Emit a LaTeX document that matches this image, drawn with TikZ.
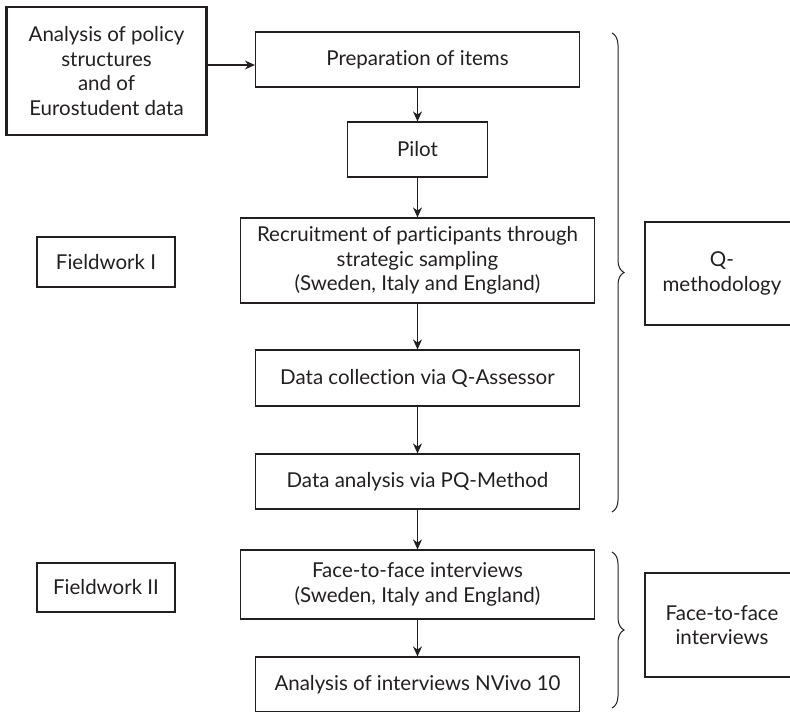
\documentclass[tikz,border=0pt]{standalone}
\usepackage{fontspec}
\setmainfont{Lato}[Ligatures=NoCommon]
\usetikzlibrary{arrows.meta,decorations.pathreplacing}
\definecolor{ink}{HTML}{231F20}
\tikzset{
  box/.style={draw=ink, text=ink, line width=1.2pt, align=center, inner sep=0pt,
    font=\fontsize{20.5}{24.5}\selectfont},
  bigbox/.style={box, line width=2.8pt},
  flow/.style={-{Stealth[length=10pt,width=9pt]}, draw=ink, line width=1.2pt},
  curly/.style={draw=ink, line width=1pt, decorate, decoration={brace, amplitude=12pt}}
}
\begin{document}
\begin{tikzpicture}[x=1pt, y=-1pt]
      \useasboundingbox (0,0) rectangle (790,712);
      \draw
        (106.5,71) node[bigbox, minimum width=200, minimum height=128] (src){Analysis of policy\\structures\\and of\\Eurostudent data}
        (417.5,59.5) node[box, minimum width=324, minimum height=55] (prep){Preparation of items}
        (417.5,149.5) node[box, minimum width=140, minimum height=55] (pilot){Pilot}
        (417.5,260.5) node[box, minimum width=354, minimum height=85] (recruit){Recruitment of participants through\\strategic sampling\\(Sweden, Italy and England)}
        (417.5,378) node[box, minimum width=324, minimum height=56] (collect){Data collection via Q-Assessor}
        (417.5,481.5) node[box, minimum width=324, minimum height=55] (pqm){Data analysis via PQ-Method}
        (417.5,584.5) node[box, minimum width=354, minimum height=69] (interv){Face-to-face interviews\\(Sweden, Italy and England)}
        (417.5,684.5) node[box, minimum width=324, minimum height=55] (nvivo){Analysis of interviews NVivo 10}
        (106,262) node[bigbox, minimum width=138, minimum height=50] (fw1){Fieldwork I}
        (106,587.5) node[bigbox, minimum width=138, minimum height=49] (fw2){Fieldwork II}
        (722,273.5) node[bigbox, minimum width=154, minimum height=103] (qm){Q-\\methodology}
        (722,625) node[bigbox, minimum width=154, minimum height=104] (ftf){Face-to-face\\interviews};
      \coordinate (qtop) at (612,33);
      \coordinate (qbot) at (612,512);
      \coordinate (ftop) at (612,552);
      \coordinate (fbot) at (612,708);
      \begin{scope}[flow]
        \draw ([yshift=6pt]src.east) to ([yshift=6pt]src.east -| prep.west);
        \draw (prep) to (pilot);
        \draw (pilot) to (recruit);
        \draw (recruit) to (collect);
        \draw (collect) to (pqm);
        \draw (pqm) to (interv);
        \draw (interv) to (nvivo);
      \end{scope}
      \draw[curly] (qtop) to (qbot);
      \draw[curly] (ftop) to (fbot);
    \end{tikzpicture}
\end{document}
